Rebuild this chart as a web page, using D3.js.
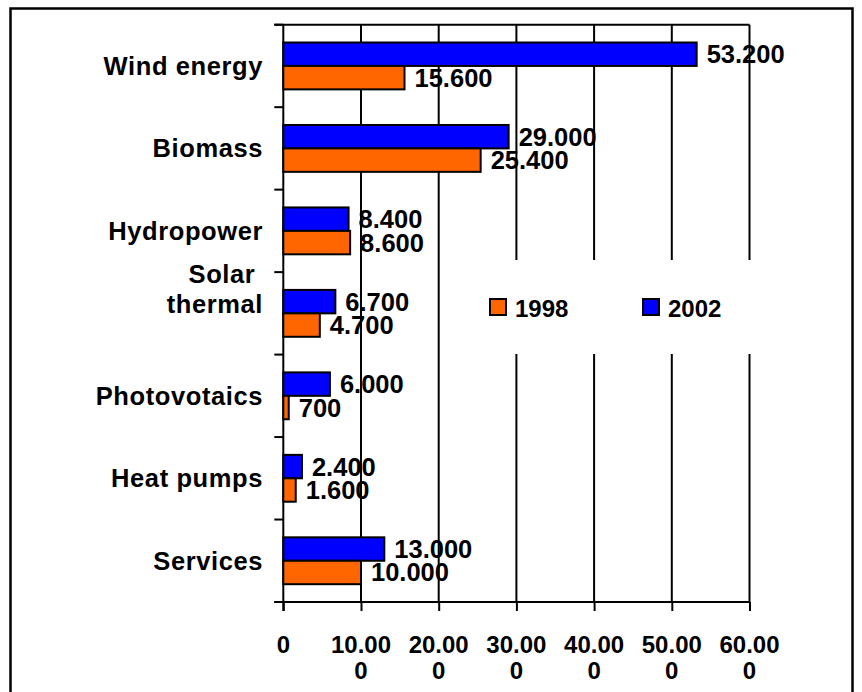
<!DOCTYPE html>
<html>
<head>
<meta charset="utf-8">
<script src="https://cdn.jsdelivr.net/npm/d3@7"></script>
<style>
  body { margin: 0; background: #fff; }
  svg { display: block; font-family: Arial, "Liberation Sans", Helvetica, sans-serif; font-weight: bold; }
</style>
</head>
<body>
<script>
const categories = ["Wind energy", "Biomass", "Hydropower", "Solar thermal", "Photovotaics", "Heat pumps", "Services"];
const values1998 = [15600, 25400, 8600, 4700, 700, 1600, 10000];
const values2002 = [53200, 29000, 8400, 6700, 6000, 2400, 13000];
const seriesNames = ["2002", "1998"];
const tickValues = [0, 10000, 20000, 30000, 40000, 50000, 60000];

const W = 862, H = 692;
const marginLeft = 283.3, marginTop = 24.7, plotW = 466.2, plotH = 577.3;
const colors = { "1998": "#FF6600", "2002": "#0000FF" };

const locale = d3.formatLocale({ decimal: ",", thousands: ".", grouping: [3], currency: ["", ""] });
const fmt = locale.format(",.0f");

const svg = d3.select("body").append("svg")
    .attr("width", W)
    .attr("height", H);

// outer frame
svg.append("rect")
    .attr("x", 10.5).attr("y", 8.5)
    .attr("width", 842).attr("height", 720)
    .attr("fill", "none")
    .attr("stroke", "#000")
    .attr("stroke-width", 2.5);

const g = svg.append("g").attr("transform", `translate(${marginLeft},${marginTop})`);

const x = d3.scaleLinear().domain([0, 60000]).range([0, plotW]);
const y = d3.scaleBand().domain(categories).range([0, plotH]);
const ySub = d3.scaleBand().domain(seriesNames).range([0, y.bandwidth()]).paddingOuter(0.76);

// gridlines
g.selectAll(".grid")
    .data(tickValues.slice(1))
    .enter().append("line")
    .attr("x1", d => x(d)).attr("x2", d => x(d))
    .attr("y1", 0).attr("y2", plotH)
    .attr("stroke", "#000").attr("stroke-width", 2);

// top border
g.append("line")
    .attr("x1", -9).attr("x2", plotW)
    .attr("y1", 0).attr("y2", 0)
    .attr("stroke", "#000").attr("stroke-width", 2);

// legend box hides gridlines behind it
g.append("rect")
    .attr("x", 470 - marginLeft).attr("y", 260 - marginTop)
    .attr("width", 300).attr("height", 94)
    .attr("fill", "#fff");

// x axis
const xAxis = d3.axisBottom(x).tickValues(tickValues).tickSize(9).tickFormat("");
const xa = g.append("g").attr("transform", `translate(0,${plotH})`).call(xAxis);
xa.select(".domain").remove();
xa.selectAll("line").attr("stroke", "#000").attr("stroke-width", 2);
g.append("line")
    .attr("x1", -9).attr("x2", plotW)
    .attr("y1", plotH).attr("y2", plotH)
    .attr("stroke", "#000").attr("stroke-width", 2);

tickValues.forEach(function(t) {
    const s = fmt(t);
    const lines = s.length > 5 ? [s.slice(0, 5), s.slice(5)] : [s];
    const tx = g.append("text")
        .attr("x", x(t))
        .attr("y", plotH + 51)
        .attr("text-anchor", "middle")
        .style("font-size", "24px");
    lines.forEach(function(l, i) {
        tx.append("tspan").attr("x", x(t)).attr("dy", i === 0 ? 0 : 26).text(l);
    });
});

// y axis
g.append("line")
    .attr("x1", 0).attr("x2", 0)
    .attr("y1", 0).attr("y2", plotH + 9)
    .attr("stroke", "#000").attr("stroke-width", 2);
const bounds = categories.map(c => y(c)).concat([plotH]);
g.selectAll(".ytick")
    .data(bounds)
    .enter().append("line")
    .attr("x1", -9).attr("x2", 0)
    .attr("y1", d => d).attr("y2", d => d)
    .attr("stroke", "#000").attr("stroke-width", 2);

// category labels
categories.forEach(function(c) {
    const cy = y(c) + y.bandwidth() / 2;
    const words = c === "Solar thermal" ? ["Solar ", "thermal"] : [c];
    const tx = g.append("text")
        .attr("x", 263 - marginLeft)
        .attr("text-anchor", "end")
        .style("font-size", "25.5px")
        .style("letter-spacing", "0.6px")
        .style("white-space", "pre");
    if (words.length === 1) {
        tx.attr("y", cy + 9).text(c);
    } else {
        tx.attr("y", cy - 30);
        words.forEach(function(w, i) {
            tx.append("tspan").attr("x", 263 - marginLeft).attr("dy", i === 0 ? 0 : 30).text(w);
        });
    }
});

// bars
const rows = categories.map((c, i) => ({ cat: c, "1998": values1998[i], "2002": values2002[i] }));
const groups = g.selectAll(".grp")
    .data(rows)
    .enter().append("g")
    .attr("transform", d => `translate(0,${y(d.cat)})`);

groups.selectAll("rect")
    .data(d => seriesNames.map(s => ({ s, v: d[s] })))
    .enter().append("rect")
    .attr("x", 0)
    .attr("y", d => ySub(d.s))
    .attr("width", d => x(d.v))
    .attr("height", ySub.bandwidth())
    .attr("fill", d => colors[d.s])
    .attr("stroke", "#000")
    .attr("stroke-width", 2);

groups.selectAll("text")
    .data(d => seriesNames.map(s => ({ s, v: d[s] })))
    .enter().append("text")
    .attr("x", d => x(d.v) + 10)
    .attr("y", d => ySub(d.s) + ySub.bandwidth() / 2 + 9)
    .style("font-size", "25.5px")
    .text(d => fmt(d.v));

// legend
const legendItems = [{ name: "1998", x: 490 }, { name: "2002", x: 643 }];
const lg = svg.selectAll(".legend")
    .data(legendItems)
    .enter().append("g");
lg.append("rect")
    .attr("x", d => d.x).attr("y", 299)
    .attr("width", 16).attr("height", 16)
    .attr("fill", d => colors[d.name])
    .attr("stroke", "#000").attr("stroke-width", 2);
lg.append("text")
    .attr("x", d => d.x + 25).attr("y", 316.5)
    .style("font-size", "24px")
    .text(d => d.name);
</script>
</body>
</html>
